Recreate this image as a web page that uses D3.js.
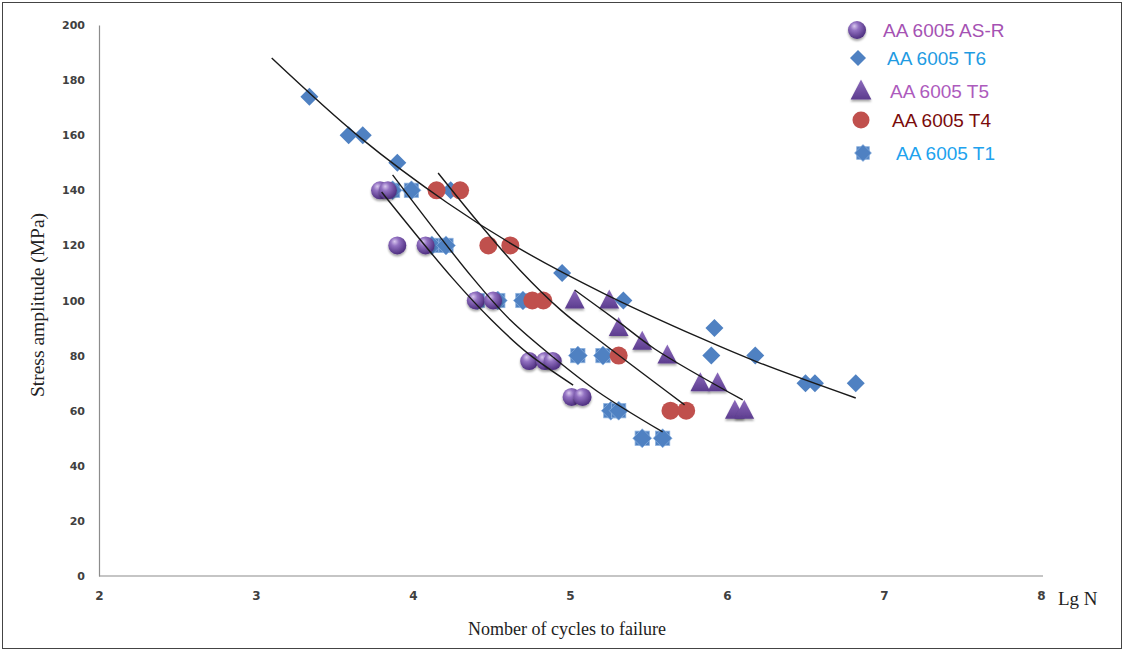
<!DOCTYPE html>
<html>
<head>
<meta charset="utf-8">
<script src="https://cdn.jsdelivr.net/npm/d3@7/dist/d3.min.js"></script>
<style>
  html, body { margin: 0; padding: 0; background: #fff; }
  svg { display: block; }
</style>
</head>
<body>
<svg id="chart" width="1125" height="652"></svg>
<script>
// ---------------- data (lg N, stress amplitude MPa) ----------------
const xTicks = [2, 3, 4, 5, 6, 7, 8];
const yTicks = [0, 20, 40, 60, 80, 100, 120, 140, 160, 180, 200];

const seriesNames = ["AA 6005 AS-R", "AA 6005 T6", "AA 6005 T5", "AA 6005 T4", "AA 6005 T1"];

const asrPoints = [[3.79,140],[3.84,140],[3.90,120],[4.08,120],[4.40,100],[4.51,100],
                   [4.74,78],[4.84,78],[4.89,78],[5.01,65],[5.08,65]];
const t6Points  = [[3.34,174],[3.59,160],[3.68,160],[3.90,150],[4.24,140],[4.95,110],
                   [5.34,100],[5.92,90],[5.90,80],[6.18,80],[6.50,70],[6.56,70],[6.82,70]];
const t5Points  = [[5.03,100],[5.25,100],[5.31,90],[5.46,85],[5.62,80],[5.83,70],[5.94,70],
                   [6.05,60],[6.11,60]];
const t4Points  = [[4.15,140],[4.30,140],[4.48,120],[4.62,120],[4.76,100],[4.83,100],
                   [5.31,80],[5.64,60],[5.74,60]];
const t1Points  = [[3.87,140],[3.99,140],[4.12,120],[4.21,120],[4.41,100],[4.54,100],[4.70,100],
                   [5.05,80],[5.21,80],[5.26,60],[5.31,60],[5.46,50],[5.59,50]];

// hand-drawn trend curves
const t6Fit  = [[3.10,188],[3.66,159.3],[4.22,135.4],[4.67,119.1],[5.21,102.7],[5.83,86.4],[6.21,77.3],[6.82,64.6]];
const t4Fit  = [[4.16,146.3],[4.43,127.4],[4.68,111.1],[4.94,96.6],[5.15,87.1],[5.73,62.1]];
const t5Fit  = [[5.03,103.8],[5.32,91.8],[5.54,82.4],[6.10,63.9]];
const t1Fit  = [[3.87,145.6],[4.38,108.2],[4.62,92.9],[4.90,79.1],[5.18,66.8],[5.59,52.3]];
const asrFit = [[3.80,139.4],[4.25,108.2],[4.50,92.9],[4.73,80.9],[5.02,69.3]];

// ---------------- setup ----------------
const svg = d3.select("#chart");
const x = d3.scaleLinear().domain([2, 8]).range([99, 1041]);
const y = d3.scaleLinear().domain([0, 200]).range([576, 25]);

const blue = "#4f81c2", red = "#c0504d";

const defs = svg.append("defs");
const rg = defs.append("radialGradient").attr("id", "sphere")
  .attr("cx", "40%").attr("cy", "35%").attr("r", "65%").attr("fx", "35%").attr("fy", "28%");
rg.append("stop").attr("offset", "0%").attr("stop-color", "#d9c8ee");
rg.append("stop").attr("offset", "35%").attr("stop-color", "#9372c2");
rg.append("stop").attr("offset", "100%").attr("stop-color", "#4e2f80");
const lg = defs.append("linearGradient").attr("id", "tri").attr("x1", 0).attr("y1", 0).attr("x2", 0).attr("y2", 1);
lg.append("stop").attr("offset", "0%").attr("stop-color", "#8d6bbd");
lg.append("stop").attr("offset", "100%").attr("stop-color", "#5c3c8e");
const sh = defs.append("filter").attr("id", "shadow").attr("x", "-50%").attr("y", "-50%").attr("width", "200%").attr("height", "200%");
sh.append("feDropShadow").attr("dx", 0).attr("dy", 2).attr("stdDeviation", 1.3)
  .attr("flood-color", "#000").attr("flood-opacity", 0.35);

// frame
svg.append("rect").attr("x", 2.5).attr("y", 2.5).attr("width", 1119).attr("height", 646)
  .attr("fill", "none").attr("stroke", "#444").attr("stroke-width", 1);

// axes
const yAxis = svg.append("g").attr("transform", `translate(${x(2)},0)`)
  .call(d3.axisLeft(y).tickValues(yTicks).tickSize(0).tickPadding(14).tickFormat(d3.format("d")));
const xAxis = svg.append("g").attr("transform", `translate(0,${y(0)})`)
  .call(d3.axisBottom(x).tickValues(xTicks).tickSize(0).tickPadding(15).tickFormat(d3.format("d")));
[yAxis, xAxis].forEach(g => {
  g.select(".domain").attr("stroke", "#8c8c8c").attr("stroke-width", 1.2);
  g.selectAll("text").attr("font-family", "'DejaVu Sans', sans-serif").attr("font-weight", "bold")
    .attr("font-size", 11).attr("fill", "#404040");
});
xAxis.selectAll("text").attr("font-size", 12);
xAxis.select(".domain").attr("d", `M${x(2)},0H${x(8) + 2}`);

// axis titles
svg.append("text").attr("x", 1058).attr("y", 605)
  .attr("font-family", "'Liberation Serif', 'Times New Roman', serif").attr("font-size", 19)
  .attr("fill", "#222").text("Lg N");
svg.append("text").attr("x", 567).attr("y", 635).attr("text-anchor", "middle")
  .attr("font-family", "'Liberation Serif', 'Times New Roman', serif").attr("font-size", 18)
  .attr("fill", "#222").text("Nomber of cycles to failure");
svg.append("text").attr("transform", "translate(44,305) rotate(-90)").attr("text-anchor", "middle")
  .attr("font-family", "'Liberation Serif', 'Times New Roman', serif").attr("font-size", 19.5)
  .attr("fill", "#222").text("Stress amplitude (MPa)");

// marker painters
const painters = {
  sphere: (g, size) => g.append("circle").attr("r", size / 2).attr("fill", "url(#sphere)").attr("filter", "url(#shadow)"),
  diamond: (g, size) => g.append("path").attr("d", `M0,${-size/2}L${size/2},0L0,${size/2}L${-size/2},0Z`).attr("fill", blue),
  triangle: (g, size) => g.append("path")
      .attr("d", `M0,${-size*0.58}L${size*0.52},${size*0.42}L${-size*0.52},${size*0.42}Z`)
      .attr("fill", "url(#tri)").attr("filter", "url(#shadow)"),
  dot: (g, size) => g.append("circle").attr("r", size / 2).attr("fill", red),
  star: (g, size) => {
    const s = size * 0.42;
    g.append("rect").attr("x", -s).attr("y", -s).attr("width", 2 * s).attr("height", 2 * s)
      .attr("fill", blue).attr("stroke", "#8fb3df").attr("stroke-width", 0.8);
    const d = size / 2 + 1;
    g.append("path").attr("d", `M0,${-d}L${d},0L0,${d}L${-d},0Z`)
      .attr("fill", blue).attr("stroke", "#8fb3df").attr("stroke-width", 0.8).attr("stroke-opacity", 0.8);
  }
};

const series = [
  { name: seriesNames[0], pts: asrPoints, fit: asrFit, shape: "sphere", size: 18, color: "#a552b3" },
  { name: seriesNames[1], pts: t6Points, fit: t6Fit, shape: "diamond", size: 18, color: "#1f9be2" },
  { name: seriesNames[2], pts: t5Points, fit: t5Fit, shape: "triangle", size: 19, color: "#ad5bbd" },
  { name: seriesNames[3], pts: t4Points, fit: t4Fit, shape: "dot", size: 18, color: "#7a0b0b" },
  { name: seriesNames[4], pts: t1Points, fit: t1Fit, shape: "star", size: 17, color: "#20a2ee" }
];

// markers
const drawOrder = [1, 4, 3, 2, 0];
drawOrder.forEach(i => {
  const s = series[i];
  svg.append("g").selectAll("g").data(s.pts).join("g")
    .attr("transform", d => `translate(${x(d[0])},${y(d[1])})`)
    .each(function () { painters[s.shape](d3.select(this), s.size); });
});

// trend curves
const line = d3.line().x(d => x(d[0])).y(d => y(d[1])).curve(d3.curveCatmullRom.alpha(0.5));
series.forEach(s => {
  svg.append("path").datum(s.fit).attr("d", line)
    .attr("fill", "none").attr("stroke", "#1a1a1a").attr("stroke-width", 1.4);
});

// legend
const legY = [30, 58, 91, 120, 153];
const legMX = [857, 858, 861, 861, 863];
const legTX = [883, 887, 890, 892, 896];
const legSize = [18, 16, 20, 17, 15];
series.forEach((s, i) => {
  const g = svg.append("g").attr("transform", `translate(${legMX[i]},${legY[i]})`);
  painters[s.shape](g, legSize[i]);
  svg.append("text").attr("x", legTX[i]).attr("y", legY[i]).attr("dy", "0.35em")
    .attr("font-family", "'Liberation Sans', Arial, sans-serif").attr("font-size", 19)
    .attr("fill", s.color).text(s.name);
});
</script>
</body>
</html>
